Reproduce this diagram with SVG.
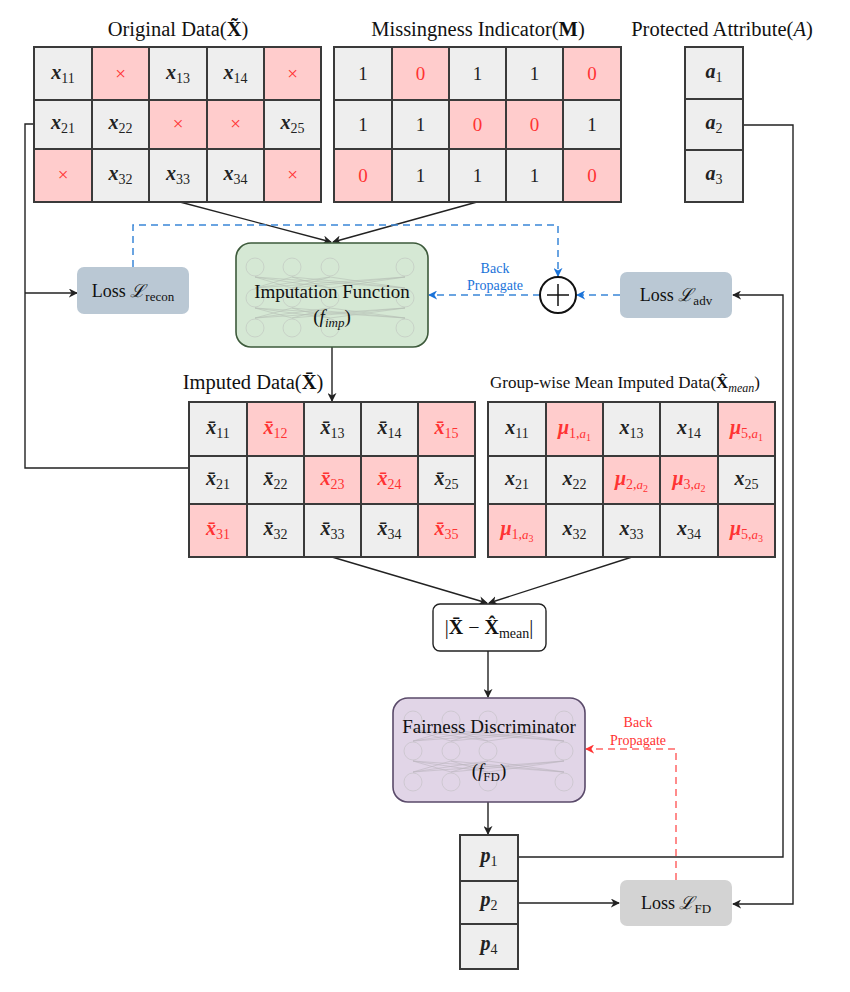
<svg xmlns="http://www.w3.org/2000/svg" width="850" height="992" viewBox="0 0 850 992">
<defs>
<style>
.cg{fill:#eeeeee;stroke:#3a3a3a;stroke-width:2}
.cp{fill:#ffcccc;stroke:#3a3a3a;stroke-width:2}
.t{font-family:"Liberation Serif","DejaVu Serif",serif;fill:#111}
.m{font-family:"Liberation Serif","DejaVu Serif",serif;font-style:italic;font-weight:bold;font-size:20px;text-anchor:middle;fill:#222}
.n{font-family:"Liberation Serif","DejaVu Serif",serif;font-size:19px;text-anchor:middle;fill:#222}
.s{font-style:normal;font-weight:normal;font-size:14px}
.ss{font-style:normal;font-weight:normal;font-size:10px}
.si{font-style:italic;font-weight:normal;font-size:13px}
.red{fill:#ff3333}
.ttl{font-family:"Liberation Serif","DejaVu Serif",serif;font-size:20.5px;text-anchor:middle;fill:#111}
.ln{fill:none;stroke:#222;stroke-width:1.4}
.bd{fill:none;stroke:#3a86d8;stroke-width:1.5;stroke-dasharray:7,5}
.rd{fill:none;stroke:#ff6666;stroke-width:1.5;stroke-dasharray:7,5}
.nn{fill:none;stroke:#bbbbbb;stroke-width:0.8;opacity:0.6}
.nl{stroke:#999;stroke-width:0.6;opacity:0.5}
</style>
<marker id="ak" viewBox="0 0 10 10" refX="9" refY="5" markerWidth="9" markerHeight="9" markerUnits="userSpaceOnUse" orient="auto"><path d="M0,0 L10,5 L0,10 L3,5 z" fill="#222"/></marker>
<marker id="ab" viewBox="0 0 10 10" refX="9" refY="5" markerWidth="9" markerHeight="9" markerUnits="userSpaceOnUse" orient="auto"><path d="M0,0 L10,5 L0,10 L3,5 z" fill="#1a73d9"/></marker>
<marker id="ar" viewBox="0 0 10 10" refX="9" refY="5" markerWidth="9" markerHeight="9" markerUnits="userSpaceOnUse" orient="auto"><path d="M0,0 L10,5 L0,10 L3,5 z" fill="#ff3333"/></marker>
</defs>
<rect width="850" height="992" fill="#ffffff"/>

<g id="connectors">
<line class="ln" x1="180" y1="202" x2="331" y2="242" marker-end="url(#ak)"/>
<line class="ln" x1="477" y1="202" x2="333" y2="242" marker-end="url(#ak)"/>
<line class="ln" x1="332" y1="347" x2="332" y2="401" marker-end="url(#ak)"/>
<path class="ln" d="M34,124 H25 V468 H189"/>
<path class="ln" d="M25,293 H77" marker-end="url(#ak)"/>
<path class="bd" d="M133,267 V225 H558 V276" marker-end="url(#ab)"/>
<path class="bd" d="M620,295 H577" marker-end="url(#ab)"/>
<path class="bd" d="M540,295 H429" marker-end="url(#ab)"/>
<path class="ln" d="M743,125 H793 V904 H733" stroke="#555" marker-end="url(#ak)"/>
<path class="ln" d="M518,857 H783 V295 H733" marker-end="url(#ak)"/>
<line class="ln" x1="332" y1="557" x2="487" y2="603" marker-end="url(#ak)"/>
<line class="ln" x1="632" y1="557" x2="489" y2="603" marker-end="url(#ak)"/>
<line class="ln" x1="488" y1="651" x2="488" y2="697" marker-end="url(#ak)"/>
<line class="ln" x1="488" y1="802" x2="488" y2="834" marker-end="url(#ak)"/>
<path class="ln" d="M518,903 H619" marker-end="url(#ak)"/>
<path class="rd" d="M676,880 V749 H586" marker-end="url(#ar)"/>
<text class="t" x="495" y="273" font-size="14" text-anchor="middle" style="fill:#1a73d9">Back</text>
<text class="t" x="495" y="290" font-size="14" text-anchor="middle" style="fill:#1a73d9">Propagate</text>
<text class="t" x="638" y="727" font-size="14" text-anchor="middle" style="fill:#ff3333">Back</text>
<text class="t" x="638" y="745" font-size="14" text-anchor="middle" style="fill:#ff3333">Propagate</text>
</g>

<g id="original-data">
<text class="ttl" x="178" y="36">Original Data(<tspan font-weight="bold">X&#x303;</tspan>)</text>
<rect class="cg" x="34" y="47" width="58" height="53"/><rect class="cp" x="92" y="47" width="57" height="53"/><rect class="cg" x="149" y="47" width="58" height="53"/><rect class="cg" x="207" y="47" width="57" height="53"/><rect class="cp" x="264" y="47" width="57" height="53"/>
<rect class="cg" x="34" y="100" width="58" height="49"/><rect class="cg" x="92" y="100" width="57" height="49"/><rect class="cp" x="149" y="100" width="58" height="49"/><rect class="cp" x="207" y="100" width="57" height="49"/><rect class="cg" x="264" y="100" width="57" height="49"/>
<rect class="cp" x="34" y="149" width="58" height="53"/><rect class="cg" x="92" y="149" width="57" height="53"/><rect class="cg" x="149" y="149" width="58" height="53"/><rect class="cg" x="207" y="149" width="57" height="53"/><rect class="cp" x="264" y="149" width="57" height="53"/>
<text class="m" x="63" y="79">x<tspan class="s" dy="4">11</tspan></text>
<text class="n red" x="120.5" y="80">×</text>
<text class="m" x="178" y="79">x<tspan class="s" dy="4">13</tspan></text>
<text class="m" x="235.5" y="79">x<tspan class="s" dy="4">14</tspan></text>
<text class="n red" x="292.5" y="80">×</text>
<text class="m" x="63" y="129">x<tspan class="s" dy="4">21</tspan></text>
<text class="m" x="120.5" y="129">x<tspan class="s" dy="4">22</tspan></text>
<text class="n red" x="178" y="130">×</text>
<text class="n red" x="235.5" y="130">×</text>
<text class="m" x="292.5" y="129">x<tspan class="s" dy="4">25</tspan></text>
<text class="n red" x="63" y="181">×</text>
<text class="m" x="120.5" y="180">x<tspan class="s" dy="4">32</tspan></text>
<text class="m" x="178" y="180">x<tspan class="s" dy="4">33</tspan></text>
<text class="m" x="235.5" y="180">x<tspan class="s" dy="4">34</tspan></text>
<text class="n red" x="292.5" y="181">×</text>
</g>

<g id="missingness-indicator">
<text class="ttl" x="478" y="36">Missingness Indicator(<tspan font-weight="bold">M</tspan>)</text>
<rect class="cg" x="334" y="47" width="58" height="53"/><rect class="cp" x="392" y="47" width="57" height="53"/><rect class="cg" x="449" y="47" width="57" height="53"/><rect class="cg" x="506" y="47" width="57" height="53"/><rect class="cp" x="563" y="47" width="58" height="53"/>
<rect class="cg" x="334" y="100" width="58" height="49"/><rect class="cg" x="392" y="100" width="57" height="49"/><rect class="cp" x="449" y="100" width="57" height="49"/><rect class="cp" x="506" y="100" width="57" height="49"/><rect class="cg" x="563" y="100" width="58" height="49"/>
<rect class="cp" x="334" y="149" width="58" height="53"/><rect class="cg" x="392" y="149" width="57" height="53"/><rect class="cg" x="449" y="149" width="57" height="53"/><rect class="cg" x="506" y="149" width="57" height="53"/><rect class="cp" x="563" y="149" width="58" height="53"/>
<text class="n" x="363" y="80">1</text><text class="n red" x="420.5" y="80">0</text><text class="n" x="477.5" y="80">1</text><text class="n" x="534.5" y="80">1</text><text class="n red" x="592" y="80">0</text>
<text class="n" x="363" y="131">1</text><text class="n" x="420.5" y="131">1</text><text class="n red" x="477.5" y="131">0</text><text class="n red" x="534.5" y="131">0</text><text class="n" x="592" y="131">1</text>
<text class="n red" x="363" y="182">0</text><text class="n" x="420.5" y="182">1</text><text class="n" x="477.5" y="182">1</text><text class="n" x="534.5" y="182">1</text><text class="n red" x="592" y="182">0</text>
</g>

<g id="protected-attribute">
<text class="ttl" x="722" y="36">Protected Attribute(<tspan font-style="italic">A</tspan>)</text>
<rect class="cg" x="685" y="47" width="58" height="52"/>
<rect class="cg" x="685" y="99" width="58" height="51"/>
<rect class="cg" x="685" y="150" width="58" height="52"/>
<text class="m" x="714" y="78">a<tspan class="s" dy="4">1</tspan></text>
<text class="m" x="714" y="129">a<tspan class="s" dy="4">2</tspan></text>
<text class="m" x="714" y="180">a<tspan class="s" dy="4">3</tspan></text>
</g>

<g id="loss-recon">
<rect x="77" y="267" width="112" height="47" rx="7" fill="#bac8d4"/>
<text class="t" x="133" y="297" font-size="18" text-anchor="middle">Loss <tspan font-style="italic">ℒ</tspan><tspan font-size="13" dy="4">recon</tspan></text>
</g>

<g id="imputation-function">
<rect x="236" y="243" width="192" height="104" rx="15" fill="#d5e8d4" stroke="#3d5a3b" stroke-width="1.6"/>
<g class="nn">
<circle cx="255" cy="267" r="9"/><circle cx="292" cy="267" r="9"/><circle cx="330" cy="267" r="9"/><circle cx="405" cy="267" r="9"/>
<circle cx="255" cy="298" r="9"/><circle cx="292" cy="298" r="9"/><circle cx="330" cy="298" r="9"/><circle cx="405" cy="298" r="9"/>
<circle cx="255" cy="328" r="9"/><circle cx="292" cy="328" r="9"/><circle cx="330" cy="328" r="9"/><circle cx="405" cy="328" r="9"/>
</g>
<g class="nl">
<path d="M255,277 L292,288 M255,277 L330,288 M255,277 L405,288 M292,277 L255,288 M292,277 L330,288 M292,277 L405,288 M330,277 L255,288 M330,277 L292,288 M330,277 L405,288 M405,277 L255,288 M405,277 L292,288 M405,277 L330,288"/>
<path d="M255,308 L292,318 M255,308 L330,318 M255,308 L405,318 M292,308 L255,318 M292,308 L330,318 M292,308 L405,318 M330,308 L255,318 M330,308 L292,318 M330,308 L405,318 M405,308 L255,318 M405,308 L292,318 M405,308 L330,318"/>
</g>
<text class="t" x="332" y="298" font-size="19" text-anchor="middle">Imputation Function</text>
<text class="t" x="332" y="323" font-size="19" text-anchor="middle">(<tspan font-style="italic">f</tspan><tspan font-style="italic" font-size="13" dy="4">imp</tspan><tspan dy="-4">)</tspan></text>
</g>

<g id="sum-node">
<circle cx="558" cy="295" r="18" fill="#ffffff" stroke="#111" stroke-width="2"/>
<path d="M547,295 H569 M558,284 V306" stroke="#111" stroke-width="1.5"/>
</g>

<g id="loss-adv">
<rect x="620" y="272" width="112" height="46" rx="7" fill="#bac8d4"/>
<text class="t" x="676" y="301" font-size="18" text-anchor="middle">Loss <tspan font-style="italic">ℒ</tspan><tspan font-size="13" dy="4">adv</tspan></text>
</g>

<g id="imputed-data">
<text class="ttl" x="253" y="389">Imputed Data(<tspan font-weight="bold">X&#x304;</tspan>)</text>
<rect class="cg" x="189" y="402" width="58" height="54"/><rect class="cp" x="247" y="402" width="57" height="54"/><rect class="cg" x="304" y="402" width="57" height="54"/><rect class="cg" x="361" y="402" width="57" height="54"/><rect class="cp" x="418" y="402" width="57" height="54"/>
<rect class="cg" x="189" y="456" width="58" height="48"/><rect class="cg" x="247" y="456" width="57" height="48"/><rect class="cp" x="304" y="456" width="57" height="48"/><rect class="cp" x="361" y="456" width="57" height="48"/><rect class="cg" x="418" y="456" width="57" height="48"/>
<rect class="cp" x="189" y="504" width="58" height="53"/><rect class="cg" x="247" y="504" width="57" height="53"/><rect class="cg" x="304" y="504" width="57" height="53"/><rect class="cg" x="361" y="504" width="57" height="53"/><rect class="cp" x="418" y="504" width="57" height="53"/>
<text class="m" x="218" y="434">x&#x304;<tspan class="s" dy="4">11</tspan></text>
<text class="m red" x="275.5" y="434">x&#x304;<tspan class="s" dy="4">12</tspan></text>
<text class="m" x="332.5" y="434">x&#x304;<tspan class="s" dy="4">13</tspan></text>
<text class="m" x="389.5" y="434">x&#x304;<tspan class="s" dy="4">14</tspan></text>
<text class="m red" x="446.5" y="434">x&#x304;<tspan class="s" dy="4">15</tspan></text>
<text class="m" x="218" y="485">x&#x304;<tspan class="s" dy="4">21</tspan></text>
<text class="m" x="275.5" y="485">x&#x304;<tspan class="s" dy="4">22</tspan></text>
<text class="m red" x="332.5" y="485">x&#x304;<tspan class="s" dy="4">23</tspan></text>
<text class="m red" x="389.5" y="485">x&#x304;<tspan class="s" dy="4">24</tspan></text>
<text class="m" x="446.5" y="485">x&#x304;<tspan class="s" dy="4">25</tspan></text>
<text class="m red" x="218" y="535">x&#x304;<tspan class="s" dy="4">31</tspan></text>
<text class="m" x="275.5" y="535">x&#x304;<tspan class="s" dy="4">32</tspan></text>
<text class="m" x="332.5" y="535">x&#x304;<tspan class="s" dy="4">33</tspan></text>
<text class="m" x="389.5" y="535">x&#x304;<tspan class="s" dy="4">34</tspan></text>
<text class="m red" x="446.5" y="535">x&#x304;<tspan class="s" dy="4">35</tspan></text>
</g>

<g id="group-mean-data">
<text class="ttl" x="625" y="388" style="font-size:17px">Group-wise Mean Imputed Data(<tspan font-weight="bold">X&#x302;</tspan><tspan font-style="italic" font-size="12" dy="4">mean</tspan><tspan dy="-4">)</tspan></text>
<rect class="cg" x="488" y="402" width="58" height="54"/><rect class="cp" x="546" y="402" width="57" height="54"/><rect class="cg" x="603" y="402" width="57" height="54"/><rect class="cg" x="660" y="402" width="58" height="54"/><rect class="cp" x="718" y="402" width="57" height="54"/>
<rect class="cg" x="488" y="456" width="58" height="48"/><rect class="cg" x="546" y="456" width="57" height="48"/><rect class="cp" x="603" y="456" width="57" height="48"/><rect class="cp" x="660" y="456" width="58" height="48"/><rect class="cg" x="718" y="456" width="57" height="48"/>
<rect class="cp" x="488" y="504" width="58" height="53"/><rect class="cg" x="546" y="504" width="57" height="53"/><rect class="cg" x="603" y="504" width="57" height="53"/><rect class="cg" x="660" y="504" width="58" height="53"/><rect class="cp" x="718" y="504" width="57" height="53"/>
<text class="m" x="517" y="434">x<tspan class="s" dy="4">11</tspan></text>
<text class="m red" x="574.5" y="434">μ<tspan class="s" dy="4">1,</tspan><tspan class="si">a</tspan><tspan class="ss" dy="3">1</tspan></text>
<text class="m" x="631.5" y="434">x<tspan class="s" dy="4">13</tspan></text>
<text class="m" x="689" y="434">x<tspan class="s" dy="4">14</tspan></text>
<text class="m red" x="746.5" y="434">μ<tspan class="s" dy="4">5,</tspan><tspan class="si">a</tspan><tspan class="ss" dy="3">1</tspan></text>
<text class="m" x="517" y="485">x<tspan class="s" dy="4">21</tspan></text>
<text class="m" x="574.5" y="485">x<tspan class="s" dy="4">22</tspan></text>
<text class="m red" x="631.5" y="485">μ<tspan class="s" dy="4">2,</tspan><tspan class="si">a</tspan><tspan class="ss" dy="3">2</tspan></text>
<text class="m red" x="689" y="485">μ<tspan class="s" dy="4">3,</tspan><tspan class="si">a</tspan><tspan class="ss" dy="3">2</tspan></text>
<text class="m" x="746.5" y="485">x<tspan class="s" dy="4">25</tspan></text>
<text class="m red" x="517" y="535">μ<tspan class="s" dy="4">1,</tspan><tspan class="si">a</tspan><tspan class="ss" dy="3">3</tspan></text>
<text class="m" x="574.5" y="535">x<tspan class="s" dy="4">32</tspan></text>
<text class="m" x="631.5" y="535">x<tspan class="s" dy="4">33</tspan></text>
<text class="m" x="689" y="535">x<tspan class="s" dy="4">34</tspan></text>
<text class="m red" x="746.5" y="535">μ<tspan class="s" dy="4">5,</tspan><tspan class="si">a</tspan><tspan class="ss" dy="3">3</tspan></text>
</g>

<g id="difference">
<rect x="433" y="604" width="113" height="47" rx="7" fill="#ffffff" stroke="#222" stroke-width="1.4"/>
<text class="t" x="489" y="634" font-size="20" text-anchor="middle">|<tspan font-weight="bold">X&#x304;</tspan> − <tspan font-weight="bold">X&#x302;</tspan><tspan font-size="14" dy="4">mean</tspan><tspan dy="-4">|</tspan></text>
</g>

<g id="fairness-discriminator">
<rect x="393" y="698" width="192" height="104" rx="15" fill="#e1d5e7" stroke="#5a4a6a" stroke-width="1.6"/>
<g class="nn">
<circle cx="413" cy="720" r="9"/><circle cx="451" cy="720" r="9"/><circle cx="488" cy="720" r="9"/><circle cx="564" cy="720" r="9"/>
<circle cx="413" cy="751" r="9"/><circle cx="451" cy="751" r="9"/><circle cx="488" cy="751" r="9"/><circle cx="564" cy="751" r="9"/>
<circle cx="413" cy="782" r="9"/><circle cx="451" cy="782" r="9"/><circle cx="488" cy="782" r="9"/><circle cx="564" cy="782" r="9"/>
</g>
<g class="nl">
<path d="M413,730 L451,741 M413,730 L488,741 M413,730 L564,741 M451,730 L413,741 M451,730 L488,741 M451,730 L564,741 M488,730 L413,741 M488,730 L451,741 M488,730 L564,741 M564,730 L413,741 M564,730 L451,741 M564,730 L488,741"/>
<path d="M413,761 L451,772 M413,761 L488,772 M413,761 L564,772 M451,761 L413,772 M451,761 L488,772 M451,761 L564,772 M488,761 L413,772 M488,761 L451,772 M488,761 L564,772 M564,761 L413,772 M564,761 L451,772 M564,761 L488,772"/>
</g>
<text class="t" x="489" y="733" font-size="19" text-anchor="middle">Fairness Discriminator</text>
<text class="t" x="489" y="777" font-size="19" text-anchor="middle">(<tspan font-style="italic">f</tspan><tspan font-size="13" dy="4">FD</tspan><tspan dy="-4">)</tspan></text>
</g>

<g id="predictions">
<rect class="cg" x="460" y="835" width="58" height="46"/>
<rect class="cg" x="460" y="881" width="58" height="43"/>
<rect class="cg" x="460" y="924" width="58" height="45"/>
<text class="m" x="489" y="862">p<tspan class="s" dy="4">1</tspan></text>
<text class="m" x="489" y="906">p<tspan class="s" dy="4">2</tspan></text>
<text class="m" x="489" y="950">p<tspan class="s" dy="4">4</tspan></text>
</g>

<g id="loss-fd">
<rect x="620" y="880" width="112" height="46" rx="7" fill="#d3d3d3"/>
<text class="t" x="676" y="909" font-size="18" text-anchor="middle">Loss <tspan font-style="italic">ℒ</tspan><tspan font-size="13" dy="4">FD</tspan></text>
</g>
</svg>
